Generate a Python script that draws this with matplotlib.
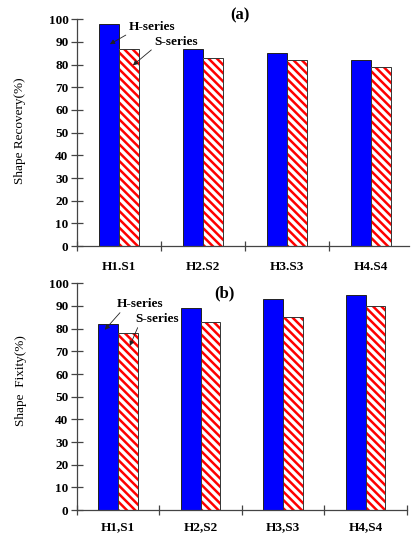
import matplotlib
matplotlib.use("Agg")
import matplotlib.pyplot as plt
import numpy as np

plt.rcParams['font.family'] = ['Liberation Serif', 'DejaVu Serif']
plt.rcParams['hatch.linewidth'] = 1.8

# data
cats_a = ["H1.S1", "H2.S2", "H3.S3", "H4.S4"]
h_recovery = [98, 87, 85, 82]
s_recovery = [87, 83, 82, 79]

cats_b = ["H1,S1", "H2,S2", "H3,S3", "H4,S4"]
h_fixity = [82, 89, 93, 95]
s_fixity = [78, 83, 85, 90]

yticks = list(range(0, 101, 10))

fig = plt.figure(figsize=(4.11, 5.35), dpi=100)
ax1 = fig.add_axes([0.187, 0.540, 0.808, 0.424])
ax2 = fig.add_axes([0.187, 0.0464, 0.803, 0.4241])


def draw(ax, cats, h, s, ylabel, xmax, xpad, ylab_y):
    x = np.arange(len(cats))
    w = 0.24
    ax.bar(x - w / 2, h, w, color='#0000FF', edgecolor='#222222', linewidth=0.7, zorder=2)
    ax.bar(x + w / 2, s, w, color='white', edgecolor='red', hatch='\\\\\\\\', linewidth=0, zorder=2)
    ax.bar(x + w / 2, s, w, fill=False, edgecolor='#333333', linewidth=0.7, zorder=3)
    ax.set_ylim(0, 100)
    ax.set_xlim(-0.5, xmax)
    for sp in ['top', 'right']:
        ax.spines[sp].set_visible(False)
    for sp in ['left', 'bottom']:
        ax.spines[sp].set_color('#444444')
        ax.spines[sp].set_linewidth(0.9)
    ax.set_yticks(yticks)
    ax.set_yticklabels([str(v) for v in yticks], fontweight='bold', fontsize=9.5)
    ax.tick_params(axis='y', direction='inout', length=8, width=0.9, color='#444444', pad=2)
    ax.set_xticks(x)
    ax.set_xticklabels(cats, fontweight='bold', fontsize=9.5)
    ax.tick_params(axis='x', which='major', length=0, pad=xpad)
    ax.set_xticks(np.arange(-0.5, xmax + 0.01, 1.0), minor=True)
    ax.tick_params(axis='x', which='minor', direction='inout', length=7, width=0.9, color='#444444')
    ax.set_ylabel(ylabel, fontsize=9.5)
    ax.yaxis.set_label_coords(-0.152, ylab_y)


draw(ax1, cats_a, h_recovery, s_recovery, "Shape Recovery(%)", 3.452, 10.5, 0.51)
draw(ax2, cats_b, h_fixity, s_fixity, "Shape  Fixity(%)", 3.5, 8, 0.57)

ax1.text(1.44, 101.8, "(a)", fontsize=12, fontweight='bold', ha='center', va='center', clip_on=False)
ax2.text(1.29, 95.7, "(b)", fontsize=12, fontweight='bold', ha='center', va='center')

arrow = dict(arrowstyle='-|>', color='#222222', lw=0.6, mutation_scale=7, shrinkA=0, shrinkB=0)

ax1.annotate("H-series", xy=(-0.107, 89), xytext=(0.393, 96.5), fontsize=9.5, fontweight='bold',
             ha='center', va='center', arrowprops=dict(arrow, relpos=(0.1, 0.2)))
ax1.annotate("S-series", xy=(0.167, 79.7), xytext=(0.679, 89.9), fontsize=9.5, fontweight='bold',
             ha='center', va='center', arrowprops=dict(arrow, relpos=(0.05, 0.2)))
ax2.annotate("H-series", xy=(-0.161, 79.5), xytext=(0.263, 90.9), fontsize=9.5, fontweight='bold',
             ha='center', va='center', arrowprops=dict(arrow, relpos=(0.15, 0.1)))
ax2.annotate("S-series", xy=(0.142, 72.4), xytext=(0.469, 84.3), fontsize=9.5, fontweight='bold',
             ha='center', va='center', arrowprops=dict(arrow, relpos=(0.1, 0.1)))

fig.savefig("out.png", dpi=100)
